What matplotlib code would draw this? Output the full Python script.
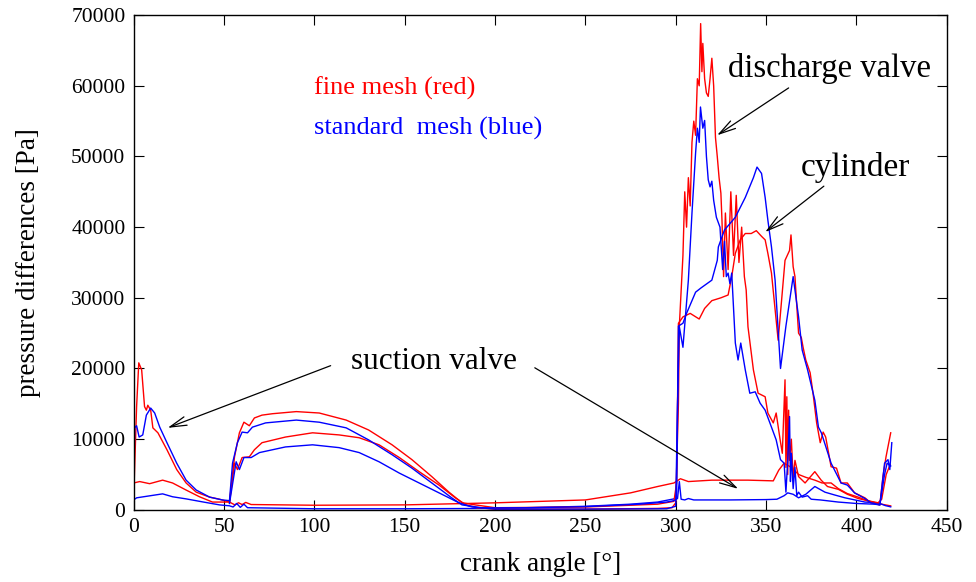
import matplotlib
matplotlib.use("Agg")
import matplotlib.pyplot as plt

plt.rcParams['font.family'] = ['Liberation Serif', 'DejaVu Serif']

# ---- data (crank angle [deg], pressure difference [Pa])
# suction valve
red_suc_x = [0, 3.3, 8.8, 16, 21.5, 29, 36.4, 43.6, 53, 56, 58, 60, 62, 65, 100, 150, 200, 250, 275, 290, 299,
             302.6, 307, 320, 340, 354, 357, 360, 364, 368, 372, 377, 381, 386, 390, 395, 401, 406, 412, 416, 419]
red_suc_y = [3800, 4000, 3700, 4200, 3800, 2800, 1850, 1100, 1100, 700, 1000, 750, 1050, 750, 650, 700, 990, 1400,
             2400, 3300, 3800, 4400, 4000, 4200, 4200, 4100, 5600, 6600, 6000, 5000, 4600, 4200, 3800, 3800, 3000,
             2300, 1800, 1300, 900, 700, 560]
blue_suc_x = [0, 1.6, 16, 21.5, 29, 38, 47.5, 53, 55, 57, 59, 61, 63, 100, 150, 200, 250, 275, 290, 299, 301, 302,
              303, 305, 307, 310, 330, 350, 356, 360, 362, 365, 368, 372, 377, 382.6, 388, 393.7, 404.7, 412, 416, 419]
blue_suc_y = [1400, 1700, 2260, 1850, 1550, 1130, 700, 570, 400, 900, 350, 800, 300, 150, 150, 200, 500, 800, 1100,
              1550, 1600, 4000, 1500, 1400, 1600, 1400, 1400, 1450, 1500, 2000, 2400, 2200, 1700, 2200, 3300, 2500,
              2100, 1700, 1100, 1000, 600, 420]

# cylinder
red_cyl_x = [0, 1.6, 2.8, 4.4, 6, 7, 7.8, 9.4, 10.6, 13.4, 18.4, 23.8, 29, 34.6, 42, 47.5, 53, 55.8, 58.5, 61, 64,
             66.8, 71, 76.8, 90, 102.7, 117.6, 130, 143, 154, 165, 174.5, 181.7, 189, 200, 250, 290, 299, 300.5,
             301.5, 304, 308, 313, 316, 320, 325, 329, 331, 333, 335.7, 338.5, 341.8, 344.6, 347.5, 349.5, 351, 353,
             356.7, 360.5, 363, 363.8, 365, 366, 366.8, 368, 369.5, 370.5, 372, 374.4, 376, 378, 380, 381.6, 383,
             386, 389, 391.5, 395, 399, 404.7, 408, 413, 414.7, 416.4, 419]
red_cyl_y = [1800, 14600, 20800, 19800, 14600, 14100, 14800, 14100, 11600, 10900, 8500, 5700, 3800, 2500, 1800, 1500,
             1100, 7500, 10900, 12400, 11900, 13000, 13400, 13600, 13900, 13700, 12700, 11300, 9200, 7100, 4700,
             2500, 1000, 700, 300, 400, 800, 1200, 3800, 26400, 27300, 27800, 27000, 28500, 29600, 30000, 30400,
             33000, 36300, 38200, 39100, 39100, 39500, 38700, 38200, 36300, 33500, 24000, 35300, 36700, 38900,
             34400, 33000, 29700, 25000, 24400, 23000, 21200, 19400, 16500, 12300, 9500, 11000, 10300, 6100, 5900,
             3800, 3800, 2400, 1700, 1000, 700, 4700, 7500, 10900]
blue_cyl_x = [0, 0.5, 1.6, 3, 5, 7, 9.4, 11.6, 14.4, 18.4, 23.8, 29, 34.6, 42, 49, 53, 54.7, 57.4, 60, 63, 65.7, 73,
              90, 102.7, 117.6, 130, 143, 154, 165, 176, 181.7, 192.7, 220, 250, 280, 295, 299, 300.5, 301.5, 304,
              306, 311, 314, 320, 323, 323.6, 327, 333, 338.5, 343, 345, 347.5, 349.5, 351, 353, 355, 358, 361, 365,
              368, 370, 373, 377, 379, 380.6, 383, 386, 391.5, 395, 399, 404.7, 408, 413, 415.6, 417.5, 418.5, 419.6]
blue_cyl_y = [1400, 11600, 11900, 10300, 10600, 13400, 14400, 13700, 11700, 9500, 6600, 4200, 2800, 1800, 1400, 1300,
              6600, 9500, 11000, 10900, 11700, 12300, 12700, 12400, 11600, 9900, 7800, 5900, 3800, 1700, 700, 280,
              300, 450, 800, 1100, 1300, 1500, 26000, 26400, 27800, 30800, 31400, 32500, 35300, 37200, 39600, 41400,
              44200, 47000, 48500, 47600, 44200, 41000, 37200, 32500, 20000, 26000, 33000, 27300, 22600, 19800,
              15500, 11700, 10900, 9000, 6600, 3800, 3500, 2400, 1600, 1000, 700, 6600, 7100, 5700, 9500]

# discharge valve
red_dis_x = [53, 55.8, 57.4, 60, 64, 66.8, 71, 84, 99, 113.7, 124.8, 135.8, 147, 158, 169, 178, 184, 190, 200, 250,
             290, 298, 300, 301.5, 302, 304, 305, 306, 307, 308, 309, 310, 311, 312, 313, 313.8, 314.5, 315, 316,
             317, 318, 319, 320, 321, 322, 323, 324, 325, 325.6, 326.5, 327.5, 329, 330.5, 332, 333.5, 335, 336.5,
             338, 339, 340, 343, 345.6, 349.5, 351, 354, 355.6, 357.8, 359, 360.5, 361, 361.5, 362,
             362.5, 363, 364, 365, 366, 368, 371.6, 377, 380.5, 384, 390, 395, 401, 406, 412, 414, 416.5, 418.7]
red_dis_y = [1000, 6600, 5700, 7400, 7500, 8500, 9500, 10300, 10900, 10600, 10200, 9200, 7400, 5400, 3500, 1700,
             700, 300, 100, 100, 200, 300, 1000, 15000, 26000, 36000, 45000, 40000, 47000, 43000, 52000, 55000,
             53000, 61000, 60000, 68800, 62000, 66000, 61000, 59000, 58500, 61000, 63900, 60000, 52700, 50000,
             47000, 44800, 41000, 33000, 42000, 34000, 45000, 36000, 44500, 35000, 40000,
             33000, 31100, 25900, 19800, 16500, 16000, 13700, 12300, 13700, 9900, 8000, 18400, 6000, 16000,
             5000, 14100, 7000, 10000, 4500, 7000, 4700, 3800, 5400, 4200, 3300, 2900, 2200, 1600, 1300, 1000,
             1500, 5000, 6400]
blue_dis_x = [53, 56.7, 58.5, 61, 65, 69.6, 84, 99, 113.7, 124.8, 135.8, 147, 158, 169, 180, 187, 200, 250, 295,
              300, 301, 302, 304, 307, 309, 311, 312, 313, 313.7, 315, 316, 317, 318, 319, 320, 321, 322.5, 324.5,
              325.4, 326, 327, 328, 329, 330, 331, 333, 334.5, 336, 338.5, 341, 344, 346.7, 349.5, 353, 355.6, 358,
              360, 361, 362, 363, 363.5, 364, 365, 366, 367, 368, 370, 373, 375, 380, 390, 400, 410, 413, 415.6,
              417, 419]
blue_dis_y = [900, 6800, 5700, 7400, 7400, 8100, 8900, 9200, 8800, 8100, 6800, 5200, 3800, 2400, 1000, 420, 100,
              100, 150, 500, 15000, 25900, 23000, 32500, 42000, 50500, 54000, 52000, 57000, 54000, 55100, 50000,
              46700, 45700, 46500, 43800, 41400, 40000, 36300, 34000, 38000, 33000, 33500, 32000, 33500, 23600,
              21200, 23600, 19800, 16500, 16700, 15100, 14100, 11700, 9900, 7100, 6600, 2500, 7000, 13200, 4000,
              8000, 3000, 6000, 2000, 2500, 1800, 2000, 1500, 1400, 1100, 900, 800, 700, 5000, 6600, 6200]

xticks = [0, 50, 100, 150, 200, 250, 300, 350, 400, 450]
yticks = [0, 10000, 20000, 30000, 40000, 50000, 60000, 70000]

fig = plt.figure(figsize=(9.76, 5.82), dpi=100)
ax = fig.add_axes([0.137, 0.124, 0.833, 0.850])

ax.plot(red_suc_x, red_suc_y, color='#ff0000', lw=1.0)
ax.plot(blue_suc_x, blue_suc_y, color='#0000ff', lw=1.0)
ax.plot(red_dis_x, red_dis_y, color='#ff0000', lw=1.0)
ax.plot(red_cyl_x, red_cyl_y, color='#ff0000', lw=1.0)
ax.plot(blue_dis_x, blue_dis_y, color='#0000ff', lw=1.0)
ax.plot(blue_cyl_x, blue_cyl_y, color='#0000ff', lw=1.0)

ax.set_xlim(0, 450)
ax.set_ylim(0, 70000)
ax.set_xticks(xticks)
ax.set_yticks(yticks)
ax.tick_params(direction='in', top=True, right=True, length=7, width=0.8, labelsize=15.5, pad=6)
for s in ax.spines.values():
    s.set_linewidth(1.0)

ax.set_xlabel('crank angle [°]', fontsize=19.5, labelpad=11)
ax.set_ylabel('pressure differences [Pa]', fontsize=19.5, labelpad=22)

# legend-like texts
ax.text(100, 59700, 'fine mesh (red)', color='#ff0000', fontsize=19, va='center')
ax.text(100, 54000, 'standard  mesh (blue)', color='#0000ff', fontsize=19, va='center')

arrow = dict(arrowstyle='->,head_length=0.6,head_width=0.16', color='black', lw=0.9,
             mutation_scale=20, shrinkA=0, shrinkB=0)
ax.text(329, 62500, 'discharge valve', fontsize=23.5, va='center')
ax.annotate('', xy=(322.9, 53000), xytext=(362.5, 59700), arrowprops=arrow)
ax.text(369, 48500, 'cylinder', fontsize=24, va='center')
ax.annotate('', xy=(349.5, 39300), xytext=(382, 45800), arrowprops=arrow)
ax.text(120, 21000, 'suction valve', fontsize=22.5, va='center')
ax.annotate('', xy=(18.8, 11600), xytext=(109, 20400), arrowprops=arrow)
ax.annotate('', xy=(334.6, 2970), xytext=(222, 20100), arrowprops=arrow)

fig.savefig('out.png', dpi=100)
